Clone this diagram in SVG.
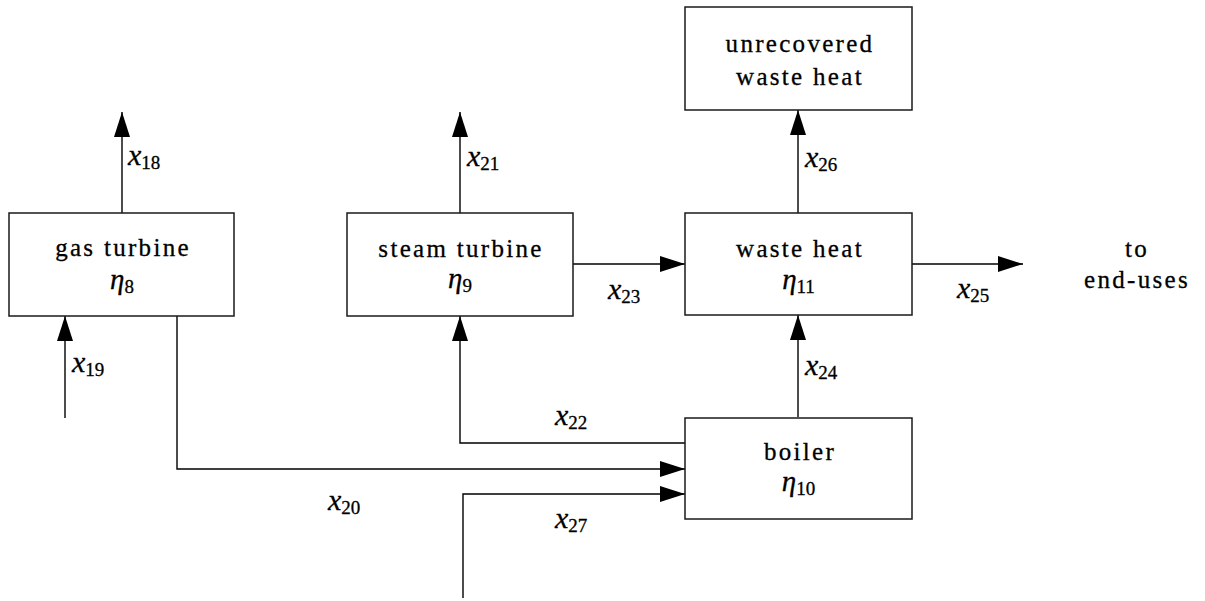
<svg xmlns="http://www.w3.org/2000/svg" width="1205" height="601" viewBox="0 0 1205 601">
<style>
text{font-family:"Liberation Serif","Times New Roman",serif;fill:#000;stroke:#000;stroke-width:0.3}
.box{fill:#fff;stroke:#1a1a1a;stroke-width:1.5}
.t{font-size:25px;letter-spacing:2.3px;text-anchor:middle}
.eta{font-size:29px;font-style:italic;text-anchor:middle}
.lbl{font-size:30px;font-style:italic}
.sub{font-size:19px;font-style:normal}
.ln{fill:none;stroke:#000;stroke-width:1.4}
</style>
<defs>
<marker id="ah" markerUnits="userSpaceOnUse" markerWidth="26" markerHeight="18" refX="25" refY="8" orient="auto">
<polygon points="0,0 25,8 0,16" fill="#000"/>
</marker>
</defs>
<rect width="1205" height="601" fill="#fff"/>
<g id="connectors">
<path class="ln" d="M122,213 V112" marker-end="url(#ah)"/>
<path class="ln" d="M65,418 V316" marker-end="url(#ah)"/>
<path class="ln" d="M177,316 V469 H685" marker-end="url(#ah)"/>
<path class="ln" d="M460,213 V112" marker-end="url(#ah)"/>
<path class="ln" d="M573,264 H685" marker-end="url(#ah)"/>
<path class="ln" d="M685,443 H460 V316" marker-end="url(#ah)"/>
<path class="ln" d="M463,598 V494 H685" marker-end="url(#ah)"/>
<path class="ln" d="M798,417 V315" marker-end="url(#ah)"/>
<path class="ln" d="M798,213 V110" marker-end="url(#ah)"/>
<path class="ln" d="M912,264 H1023" marker-end="url(#ah)"/>
<text class="lbl" x="128" y="165">x<tspan class="sub" dy="4">18</tspan></text>
<text class="lbl" x="72" y="372">x<tspan class="sub" dy="4">19</tspan></text>
<text class="lbl" x="328" y="510">x<tspan class="sub" dy="4">20</tspan></text>
<text class="lbl" x="467" y="166">x<tspan class="sub" dy="4">21</tspan></text>
<text class="lbl" x="555" y="425">x<tspan class="sub" dy="4">22</tspan></text>
<text class="lbl" x="608" y="299">x<tspan class="sub" dy="4">23</tspan></text>
<text class="lbl" x="805" y="375">x<tspan class="sub" dy="4">24</tspan></text>
<text class="lbl" x="957" y="298">x<tspan class="sub" dy="4">25</tspan></text>
<text class="lbl" x="805" y="167">x<tspan class="sub" dy="4">26</tspan></text>
<text class="lbl" x="555" y="528">x<tspan class="sub" dy="4">27</tspan></text>
</g>
<g id="gas-turbine">
<rect class="box" x="9" y="213" width="225" height="103"/>
<text class="t" x="123" y="256">gas turbine</text>
<text class="eta" x="122" y="289">η<tspan class="sub" dy="4">8</tspan></text>
</g>
<g id="steam-turbine">
<rect class="box" x="347" y="213" width="226" height="103"/>
<text class="t" x="461" y="257">steam turbine</text>
<text class="eta" x="460" y="288">η<tspan class="sub" dy="4">9</tspan></text>
</g>
<g id="unrecovered">
<rect class="box" x="685" y="7" width="227" height="103"/>
<text class="t" x="800" y="52">unrecovered</text>
<text class="t" x="800" y="85">waste heat</text>
</g>
<g id="waste-heat">
<rect class="box" x="685" y="213" width="227" height="102"/>
<text class="t" x="800" y="257">waste heat</text>
<text class="eta" x="798.5" y="289">η<tspan class="sub" dy="4">11</tspan></text>
</g>
<g id="boiler">
<rect class="box" x="685" y="418" width="227" height="101"/>
<text class="t" x="800" y="460">boiler</text>
<text class="eta" x="798.5" y="491">η<tspan class="sub" dy="4">10</tspan></text>
</g>
<g id="end-uses">
<text class="t" x="1137" y="257">to</text>
<text class="t" x="1137" y="288">end-uses</text>
</g>
</svg>
